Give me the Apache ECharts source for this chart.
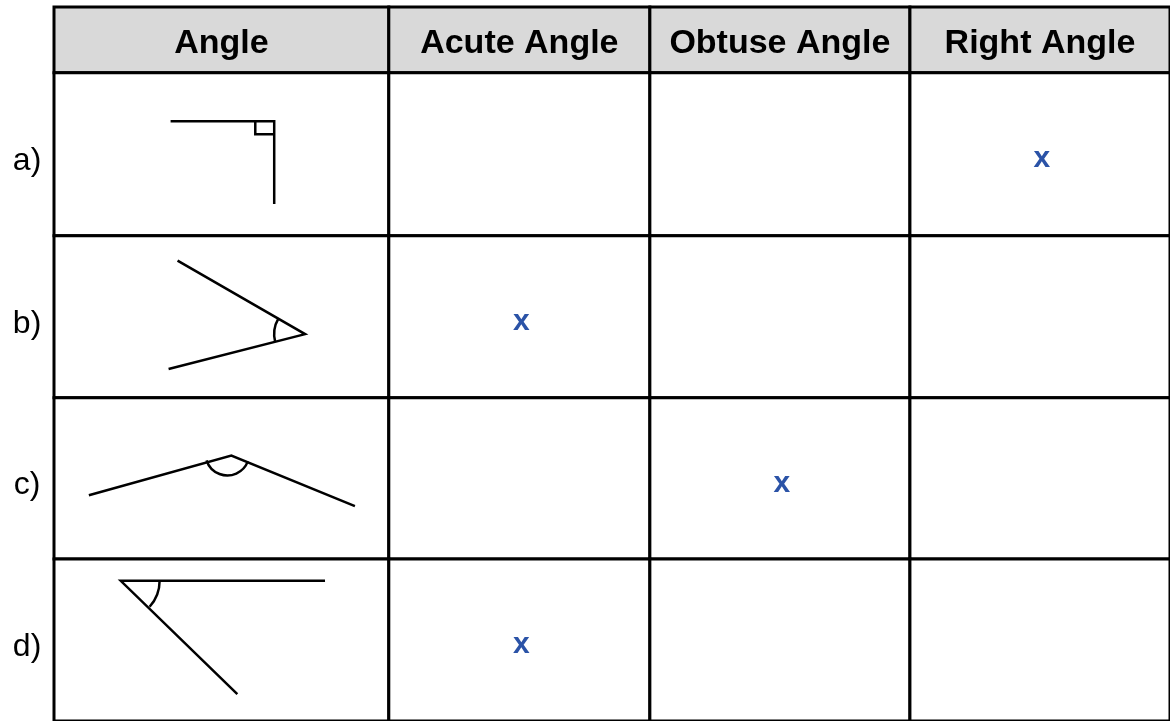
<!DOCTYPE html>
<html>
<head>
<meta charset="utf-8">
<script src="https://cdn.jsdelivr.net/npm/echarts@6/dist/echarts.min.js"></script>
<style>
  html, body { margin: 0; padding: 0; background: #fff; }
  #chart { width: 1170px; height: 721px; }
</style>
</head>
<body>
<div id="chart"></div>
<script>
// table content
const headers = ['Angle', 'Acute Angle', 'Obtuse Angle', 'Right Angle'];
const rowLabels = ['a)', 'b)', 'c)', 'd)'];
const answers = ['Right Angle', 'Acute Angle', 'Obtuse Angle', 'Acute Angle'];
const markText = 'x';

// angle sketches, points inside each first-column cell (cell units)
const angleLines = [
  [[[117, 49], [221, 49], [221, 132]], [[202, 49], [202, 62], [220, 62]]],
  [[[124, 25], [252, 99], [115, 134]]],
  [[[35, 98], [178, 58], [302, 109]]],
  [[[272, 22], [67, 22], [184, 136]]]
];
// angle arcs: [cx, cy, r, startDeg, endDeg]
const angleArcs = [
  null,
  [252, 99, 31, 166, 210],
  [174, 56, 22, 21, 162],
  [67, 22, 39, 0, 42]
];

// layout of the grid (table units)
const colEdges = [0, 336, 598, 859, 1120];
const rowEdges = [0, 66, 230, 393, 555, 718];
const FONT = '"Liberation Sans", Arial, Helvetica, sans-serif';

const cellData = [];
for (let r = 0; r < rowEdges.length - 1; r++) {
  for (let c = 0; c < colEdges.length - 1; c++) cellData.push([c, r]);
}
const markData = answers.map((a, i) => [headers.indexOf(a), i + 1]);

const chart = echarts.init(document.getElementById('chart'));

// cells + header texts + row labels
const renderCell = (params, api) => {
  const c = api.value(0), r = api.value(1);
  const p0 = api.coord([colEdges[c], rowEdges[r]]);
  const p1 = api.coord([colEdges[c + 1], rowEdges[r + 1]]);
  const children = [{
    type: 'rect',
    shape: { x: p0[0], y: p0[1], width: p1[0] - p0[0], height: p1[1] - p0[1] },
    style: { fill: r === 0 ? '#d9d9d9' : '#ffffff', stroke: '#000', lineWidth: 3 }
  }];
  if (r === 0) {
    children.push({
      type: 'text',
      x: (p0[0] + p1[0]) / 2,
      y: (p0[1] + p1[1]) / 2 + 4,
      style: {
        text: headers[c], fill: '#000',
        fontFamily: FONT, fontWeight: 'bold', fontSize: 34,
        textAlign: 'center', textVerticalAlign: 'middle'
      }
    });
  }
  if (c === 0 && r > 0) {
    const lp = api.coord([-27, (rowEdges[r] + rowEdges[r + 1]) / 2]);
    children.push({
      type: 'text',
      x: lp[0], y: lp[1] + 7,
      style: {
        text: rowLabels[r - 1], fill: '#000',
        fontFamily: FONT, fontSize: 32,
        textAlign: 'center', textVerticalAlign: 'middle'
      }
    });
  }
  return { type: 'group', children };
};

// angle drawings in first column
const renderAngle = (params, api) => {
  const i = api.value(0);
  const top = rowEdges[i + 1];
  const children = angleLines[i].map(line => ({
    type: 'polyline',
    shape: { points: line.map(p => api.coord([p[0], top + p[1]])) },
    style: { stroke: '#000', lineWidth: 2.5, fill: null }
  }));
  const arc = angleArcs[i];
  if (arc) {
    const c = api.coord([arc[0], top + arc[1]]);
    children.push({
      type: 'arc',
      shape: {
        cx: c[0], cy: c[1], r: api.size([arc[2], 0])[0],
        startAngle: arc[3] * Math.PI / 180, endAngle: arc[4] * Math.PI / 180,
        clockwise: true
      },
      style: { stroke: '#000', lineWidth: 2.5, fill: null }
    });
  }
  return { type: 'group', children };
};

// answer marks
const renderMark = (params, api) => {
  const c = api.value(0), r = api.value(1);
  const p = api.coord([(colEdges[c] + colEdges[c + 1]) / 2, (rowEdges[r] + rowEdges[r + 1]) / 2]);
  return {
    type: 'text',
    x: p[0] + 2, y: p[1] + 5,
    style: {
      text: markText, fill: '#2b53a7',
      fontFamily: FONT, fontWeight: 'bold', fontSize: 30,
      textAlign: 'center', textVerticalAlign: 'middle'
    }
  };
};

chart.setOption({
  animation: false,
  backgroundColor: '#fff',
  grid: { left: 54, top: 7, width: 1120, height: 718 },
  xAxis: { type: 'value', min: 0, max: 1120, show: false },
  yAxis: { type: 'value', min: 0, max: 718, inverse: true, show: false },
  series: [
    { type: 'custom', data: cellData, renderItem: renderCell, z: 1 },
    { type: 'custom', data: rowLabels.map((l, i) => [i]), renderItem: renderAngle, z: 2 },
    { type: 'custom', data: markData, renderItem: renderMark, z: 3 }
  ]
});
</script>
</body>
</html>
